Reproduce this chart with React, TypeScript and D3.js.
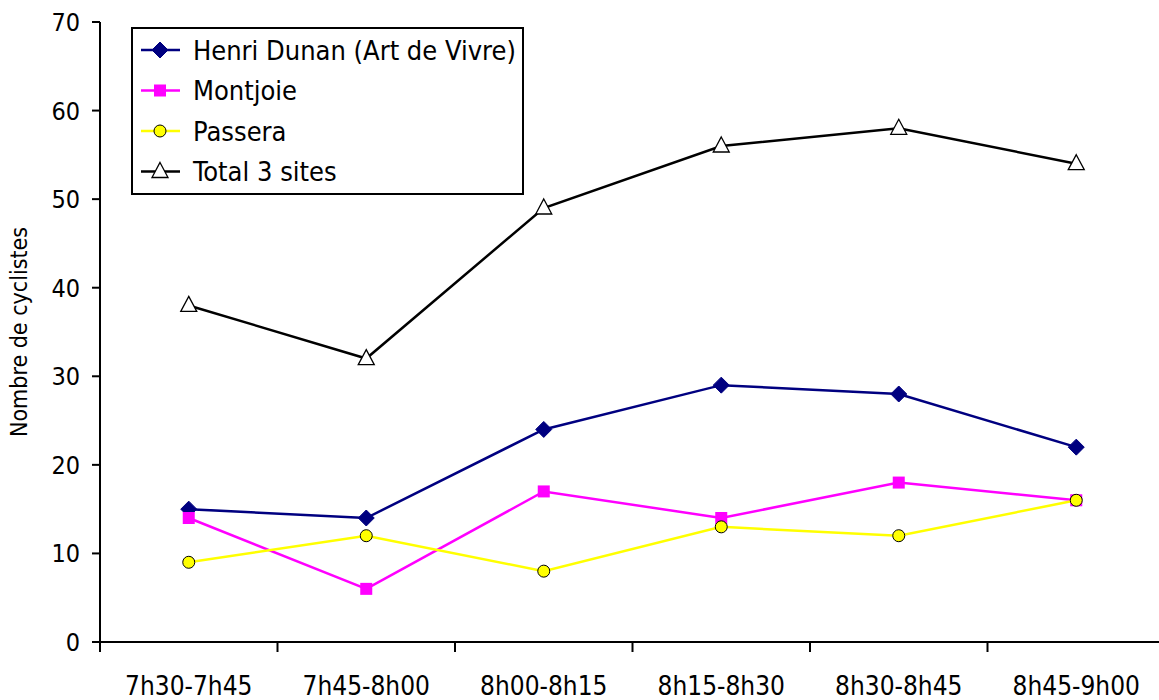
import React from 'react';
import * as d3 from 'd3';

const categories = ['7h30-7h45', '7h45-8h00', '8h00-8h15', '8h15-8h30', '8h30-8h45', '8h45-9h00'];
const henriDunan = [15, 14, 24, 29, 28, 22];
const montjoie = [14, 6, 17, 14, 18, 16];
const passera = [9, 12, 8, 13, 12, 16];
const total = [38, 32, 49, 56, 58, 54];
const yTicks = [0, 10, 20, 30, 40, 50, 60, 70];

const series = [
  { name: 'Henri Dunan (Art de Vivre)', values: henriDunan, color: '#000080', marker: 'diamond' },
  { name: 'Montjoie', values: montjoie, color: '#FF00FF', marker: 'square' },
  { name: 'Passera', values: passera, color: '#FFFF00', marker: 'circle' },
  { name: 'Total 3 sites', values: total, color: '#000000', marker: 'triangle' },
];

const FONT = '"DejaVu Sans Condensed", "DejaVu Sans", sans-serif';

const Marker: React.FC<{ type: string; cx: number; cy: number; color: string }> = ({ type, cx, cy, color }) => {
  if (type === 'diamond') {
    const s = 8;
    return <path d={`M${cx},${cy - s}L${cx + s},${cy}L${cx},${cy + s}L${cx - s},${cy}Z`} fill={color} stroke={color} />;
  }
  if (type === 'square') {
    const s = 6;
    return <rect x={cx - s} y={cy - s} width={2 * s} height={2 * s} fill={color} />;
  }
  if (type === 'circle') {
    return <circle cx={cx} cy={cy} r={6} fill={color} stroke="#000" strokeWidth={1} />;
  }
  // triangle
  return <path d={`M${cx},${cy - 9}L${cx + 8},${cy + 6}L${cx - 8},${cy + 6}Z`} fill="#fff" stroke="#000" strokeWidth={1.3} />;
};

export default function App() {
  const left = 100;
  const bandW = 177.5;
  const x = d3.scaleBand<string>().domain(categories).range([left, left + bandW * categories.length]).paddingInner(0).paddingOuter(0);
  const y = d3.scaleLinear().domain([0, 70]).range([642, 22]);
  const cx = (c: string) => (x(c) as number) + x.bandwidth() / 2;

  const line = d3.line<number>()
    .x((_, i) => cx(categories[i]))
    .y(d => y(d));

  const tickBounds = categories.map(c => x(c) as number);

  return (
    <svg width={1159} height={700} style={{ position: 'absolute', left: 0, top: 0, background: '#fff' }} fontFamily={FONT}>
      {/* y axis */}
      <line x1={left} x2={left} y1={y(70)} y2={y(0)} stroke="#000" strokeWidth={2} />
      {yTicks.map(t => (
        <g key={t}>
          <line x1={left - 8} x2={left} y1={y(t)} y2={y(t)} stroke="#000" strokeWidth={2} />
          <text x={80} y={y(t)} dy="0.36em" textAnchor="end" fontSize={25} fill="#000">{t}</text>
        </g>
      ))}
      {/* x axis */}
      <line x1={left} x2={1159} y1={y(0)} y2={y(0)} stroke="#000" strokeWidth={2} />
      {tickBounds.map((b, i) => (
        <line key={i} x1={b} x2={b} y1={y(0)} y2={y(0) + 10} stroke="#000" strokeWidth={2} />
      ))}
      {categories.map(c => (
        <text key={c} x={cx(c)} y={695} textAnchor="middle" fontSize={26} fill="#000">{c}</text>
      ))}
      <text transform={`translate(27,${y(35)}) rotate(-90)`} textAnchor="middle" fontSize={23} fill="#000">Nombre de cyclistes</text>

      {/* series */}
      {series.map(s => (
        <g key={s.name}>
          <path d={line(s.values) || ''} fill="none" stroke={s.color} strokeWidth={2.5} />
          {s.values.map((v, i) => (
            <Marker key={i} type={s.marker} cx={cx(categories[i])} cy={y(v)} color={s.color} />
          ))}
        </g>
      ))}

      {/* legend */}
      <rect x={132} y={28} width={391} height={166} fill="#fff" stroke="#000" strokeWidth={2} />
      {series.map((s, i) => {
        const ly = 50 + i * 40.5;
        return (
          <g key={s.name}>
            <line x1={141} x2={180} y1={ly} y2={ly} stroke={s.color} strokeWidth={2.5} />
            <Marker type={s.marker} cx={160} cy={ly} color={s.color} />
            <text x={193} y={ly} dy="0.36em" fontSize={27} fill="#000">{s.name}</text>
          </g>
        );
      })}
    </svg>
  );
}
